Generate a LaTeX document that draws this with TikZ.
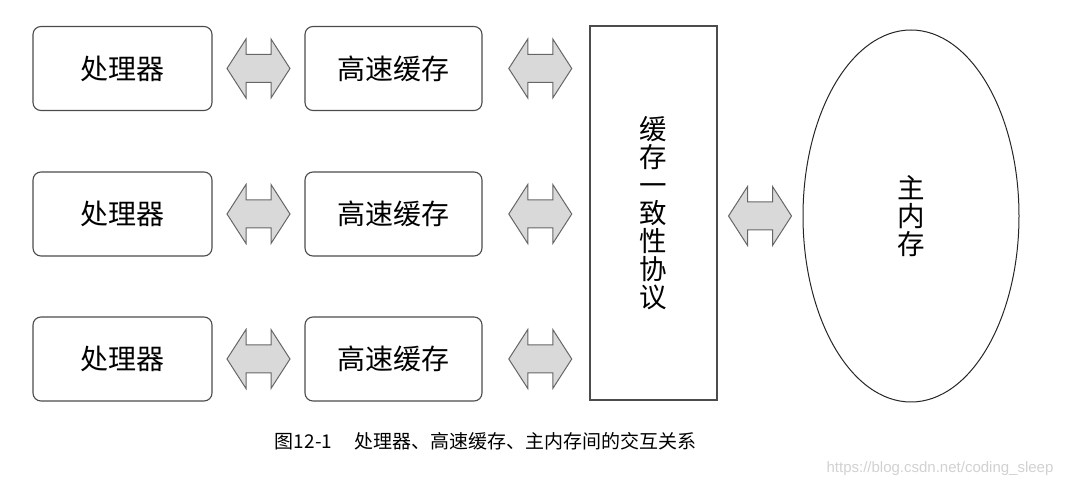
\documentclass[tikz,border=0pt]{standalone}
\usepackage{fontspec}
\usepackage{tikz}
\usetikzlibrary{calc,shapes.geometric}
\newfontfamily\cjk{Noto Sans CJK SC}
\setsansfont{Liberation Sans}

\begin{document}
\begin{tikzpicture}[x=1pt,y=-1pt,
    box/.style={draw=black!70,line width=1.1pt,rounded corners=8pt,minimum width=179pt,minimum height=84pt,inner sep=0pt,font=\cjk\fontsize{28}{28}\selectfont},
    tallbox/.style={draw=black!70,line width=1.1pt,minimum width=127pt,minimum height=374pt,align=center,inner sep=0pt,font=\cjk\fontsize{27.5}{28}\selectfont},
    memory/.style={draw=black!85,line width=1pt,ellipse,minimum width=216pt,minimum height=372pt,align=center,inner sep=0pt,font=\cjk\fontsize{27.5}{28}\selectfont},
    arrowfill/.style={draw=black!60,line width=1pt,fill=black!15,line join=miter},
    dualarrow/.pic={\draw[arrowfill] (-31.5,0) -- (-12.5,-29.5) -- (-12.5,-14) -- (12.5,-14) -- (12.5,-29.5)
        -- (31.5,0) -- (12.5,29.5) -- (12.5,14) -- (-12.5,14) -- (-12.5,29.5) -- cycle;}]
  \useasboundingbox (0,0) rectangle (1072,486);
  \node[box] (p1) at (122.5,68.5) {处理器};
  \node[box] (p2) at (122.5,214) {处理器};
  \node[box] (p3) at (122.5,359) {处理器};
  \node[box,minimum width=177pt] (c1) at (393.5,68.5) {高速缓存};
  \node[box,minimum width=177pt] (c2) at (393.5,214) {高速缓存};
  \node[box,minimum width=177pt] (c3) at (393.5,359) {高速缓存};
  \node[tallbox] (proto) at (653.5,213) {缓\\存\\一\\致\\性\\协\\议};
  \node[memory] (mem) at (911,216) {主\\内\\存};
  % double arrows between the parts
  \foreach \i in {1,2,3} {
    \pic at ($(p\i.east)!.5!(c\i.west)$) {dualarrow};
    \pic at ($(c\i.east)!.54!(c\i.east-|proto.west)$) {dualarrow};
  }
  \pic at ($(proto.east|-mem.west)!.5!(mem.west)$) {dualarrow};
  \node[font=\cjk\fontsize{19}{21}\selectfont] (caption) at (486,441) {图12-1\hspace{1.2em}处理器、高速缓存、主内存间的交互关系};
  \node[font=\sffamily\fontsize{15}{17}\selectfont,text=black!18] (mark) at (940,469) {https://blog.csdn.net/coding\_sleep};
\end{tikzpicture}
\end{document}
